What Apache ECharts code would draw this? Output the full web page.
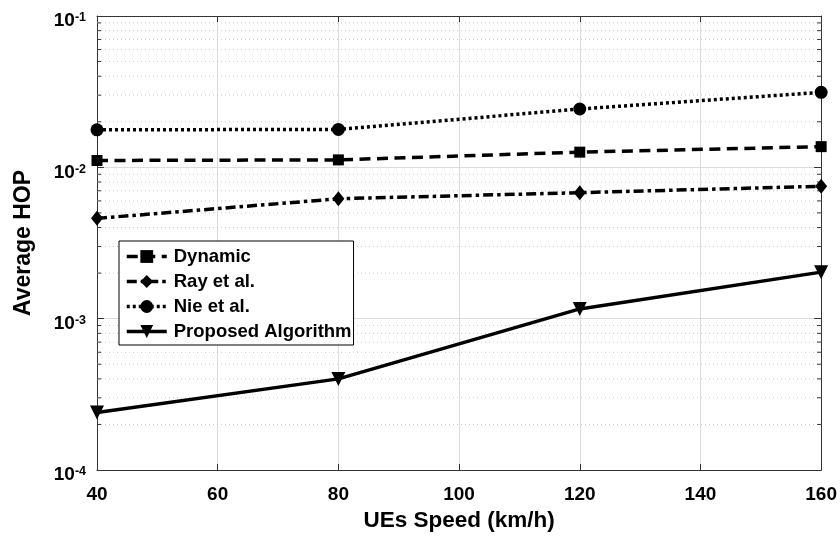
<!DOCTYPE html>
<html>
<head>
<meta charset="utf-8">
<script src="https://cdn.jsdelivr.net/npm/echarts@6/dist/echarts.min.js"></script>
<style>
  html, body { margin: 0; padding: 0; background: #fff; }
  #chart { width: 840px; height: 539px; }
</style>
</head>
<body>
<div id="chart"></div>
<script>
var speeds = [40, 80, 120, 160];
var seriesNames = ['Dynamic', 'Ray et al.', 'Nie et al.', 'Proposed Algorithm'];
var dynamicHop = [0.0111, 0.0112, 0.0126, 0.0137];
var rayHop = [0.0046, 0.0062, 0.0068, 0.0075];
var nieHop = [0.0177, 0.0178, 0.0243, 0.0313];
var proposedHop = [0.00024, 0.0004, 0.00116, 0.00203];
var xTicks = [40, 60, 80, 100, 120, 140, 160];
var yDecades = [-4, -3, -2, -1];

// minor log ticks 2..9 in every decade
var minorVals = [];
for (var d = 0; d < yDecades.length - 1; d++) {
    for (var m = 2; m <= 9; m++) {
        minorVals.push(m * Math.pow(10, yDecades[d]));
    }
}

function pairs(vals){
    return speeds.map(function(s, i){ return [s, vals[i]]; });
}

var FONT = '"Liberation Sans", Arial, Helvetica, sans-serif';
var AXIS = '#333';
var LW = 3.5;

var chartDom = document.getElementById('chart');
var myChart = echarts.init(chartDom);

function lineSeries(name, vals, dash, symbol, size, rotate){
    return {
        name: name,
        type: 'line',
        data: pairs(vals),
        symbol: symbol,
        symbolSize: size,
        symbolRotate: rotate || 0,
        showAllSymbol: true,
        clip: false,
        z: 5,
        itemStyle: { color: '#000' },
        lineStyle: { color: '#000', width: LW, type: dash },
        emphasis: { disabled: true }
    };
}

var option = {
    animation: false,
    backgroundColor: '#fff',
    textStyle: { fontFamily: FONT },
    grid: { left: 97, right: 16, top: 16, bottom: 69, containLabel: false },
    legend: {
        data: seriesNames,
        orient: 'vertical',
        left: 119,
        top: 241,
        itemWidth: 40,
        itemHeight: 16,
        itemGap: 6,
        padding: [6, 2, 4, 6],
        backgroundColor: '#fff',
        borderColor: '#000',
        borderWidth: 1,
        borderRadius: 0,
        selectedMode: false,
        lineStyle: { width: LW },
        textStyle: { fontFamily: FONT, fontWeight: 'bold', fontSize: 18.5, color: '#000', padding: [0, 0, 0, 2] }
    },
    xAxis: [
        {
            type: 'value',
            min: 40,
            max: 160,
            interval: 20,
            name: 'UEs Speed (km/h)',
            nameLocation: 'middle',
            nameGap: 39,
            nameTextStyle: { fontFamily: FONT, fontWeight: 'bold', fontSize: 22.5, color: '#000' },
            axisLine: { show: true, lineStyle: { color: AXIS, width: 1 } },
            axisTick: { show: true, inside: true, length: 6, lineStyle: { color: AXIS } },
            axisLabel: { margin: 15, fontFamily: FONT, fontWeight: 'bold', fontSize: 19, color: '#000' },
            splitLine: { show: true, lineStyle: { color: '#dcdcdc', width: 1 } }
        },
        {
            type: 'value',
            position: 'top',
            min: 40,
            max: 160,
            interval: 20,
            axisLine: { show: true, lineStyle: { color: AXIS, width: 1 } },
            axisTick: { show: true, inside: true, length: 6, lineStyle: { color: AXIS } },
            axisLabel: { show: false },
            splitLine: { show: false }
        }
    ],
    yAxis: [
        {
            type: 'log',
            logBase: 10,
            min: 1e-4,
            max: 1e-1,
            name: 'Average HOP',
            nameLocation: 'middle',
            nameRotate: 90,
            nameGap: 62,
            nameTextStyle: { fontFamily: FONT, fontWeight: 'bold', fontSize: 23, color: '#000' },
            axisLine: { show: true, lineStyle: { color: AXIS, width: 1 } },
            axisTick: { show: true, inside: true, length: 7, lineStyle: { color: AXIS } },
            axisLabel: {
                margin: 11,
                padding: [10, 0, 0, 0],
                formatter: function(v){
                    var e = Math.round(Math.log(v) / Math.LN10);
                    return '{b|10}{s|' + e + '}';
                },
                rich: {
                    b: { fontFamily: FONT, fontWeight: 'bold', fontSize: 19, color: '#000', lineHeight: 19, verticalAlign: 'bottom' },
                    s: { fontFamily: FONT, fontWeight: 'bold', fontSize: 12.5, color: '#000', lineHeight: 12, verticalAlign: 'top' }
                }
            },
            splitLine: { show: true, lineStyle: { color: '#dcdcdc', width: 1 } }
        },
        {
            type: 'log',
            logBase: 10,
            min: 1e-4,
            max: 1e-1,
            position: 'right',
            axisLine: { show: true, lineStyle: { color: AXIS, width: 1 } },
            axisTick: { show: true, inside: true, length: 7, lineStyle: { color: AXIS } },
            axisLabel: { show: false },
            splitLine: { show: false }
        }
    ],
    series: [
        {
            name: 'minorGrid',
            type: 'custom',
            silent: true,
            z: 1,
            data: minorVals.map(function(v){ return [40, v]; }),
            renderItem: function(params, api){
                var y = api.coord([40, api.value(1)])[1];
                var cs = params.coordSys;
                var x0 = cs.x, x1 = cs.x + cs.width;
                return {
                    type: 'group',
                    children: [
                        {
                            type: 'line',
                            shape: { x1: x0, y1: y, x2: x1, y2: y },
                            style: { stroke: '#c8c8c8', lineWidth: 1, lineDash: [1, 3] }
                        },
                        {
                            type: 'line',
                            shape: { x1: x0, y1: y, x2: x0 + 4, y2: y },
                            style: { stroke: AXIS, lineWidth: 1 }
                        },
                        {
                            type: 'line',
                            shape: { x1: x1 - 4, y1: y, x2: x1, y2: y },
                            style: { stroke: AXIS, lineWidth: 1 }
                        }
                    ]
                };
            }
        },
        lineSeries('Dynamic', dynamicHop, [11, 6.5], 'rect', 11),
        lineSeries('Ray et al.', rayHop, [10, 4, 3.5, 4], 'diamond', [12, 15]),
        lineSeries('Nie et al.', nieHop, [3, 3], 'circle', 13),
        lineSeries('Proposed Algorithm', proposedHop, 'solid', 'triangle', 14, 180)
    ]
};

myChart.setOption(option);
</script>
</body>
</html>
